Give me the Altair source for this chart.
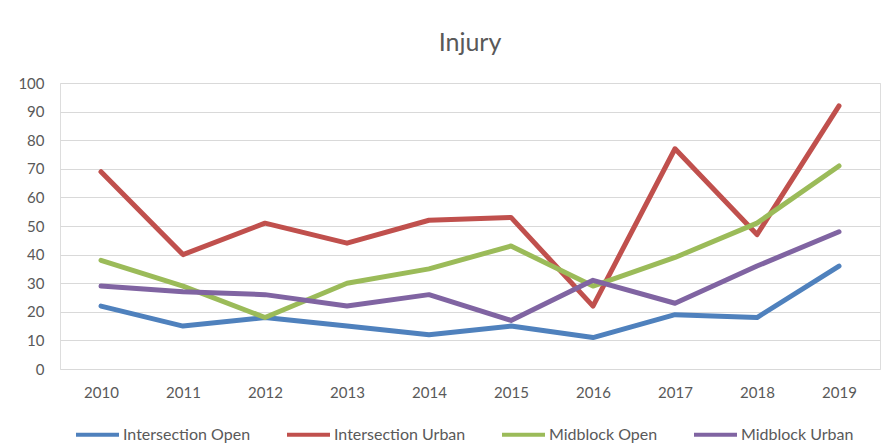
import altair as alt
import pandas as pd

years = ["2010", "2011", "2012", "2013", "2014", "2015", "2016", "2017", "2018", "2019"]
series_names = ["Intersection Open", "Intersection Urban", "Midblock Open", "Midblock Urban"]
intersection_open = [22, 15, 18, 15, 12, 15, 11, 19, 18, 36]
intersection_urban = [69, 40, 51, 44, 52, 53, 22, 77, 47, 92]
midblock_open = [38, 29, 18, 30, 35, 43, 29, 39, 51, 71]
midblock_urban = [29, 27, 26, 22, 26, 17, 31, 23, 36, 48]
colors = ["#4F81BD", "#C0504D", "#9BBB59", "#8064A2"]

rows = []
for name, vals in zip(series_names, [intersection_open, intersection_urban, midblock_open, midblock_urban]):
    for y, v in zip(years, vals):
        rows.append({"Year": y, "Value": v, "Series": name})
df = pd.DataFrame(rows)

FONT = "Lato"
TXT = "#595959"

chart = alt.Chart(df).mark_line(strokeWidth=5, strokeCap="round", strokeJoin="round").encode(
    x=alt.X("Year:O", sort=years, scale=alt.Scale(type="point", padding=0.5),
            axis=alt.Axis(title=None, labelAngle=0, ticks=False, grid=False, domain=False,
                          labelPadding=16, labelFontSize=15, labelColor=TXT, labelFont=FONT)),
    y=alt.Y("Value:Q", scale=alt.Scale(domain=[0, 100], nice=False),
            axis=alt.Axis(title=None, values=list(range(0, 101, 10)), ticks=False, domain=False,
                          labelPadding=16, labelFontSize=15, labelColor=TXT, labelFont=FONT,
                          gridColor="#d9d9d9", gridWidth=1)),
    color=alt.Color("Series:N", sort=series_names,
                    scale=alt.Scale(domain=series_names, range=colors),
                    legend=alt.Legend(title=None, orient="none", direction="horizontal",
                                      legendX=14, legendY=328,
                                      symbolType="stroke", symbolSize=1849, symbolStrokeWidth=4,
                                      labelFontSize=16, labelColor=TXT, labelFont=FONT,
                                      labelOffset=2, columnPadding=28)),
    detail="Series:N",
).properties(
    width=820, height=286,
    title=alt.TitleParams("Injury", fontSize=25, font=FONT, color=TXT, fontWeight="normal",
                          anchor="middle", offset=20),
    padding={"left": 52, "top": 75, "right": 8, "bottom": 76},
    autosize=alt.AutoSizeParams(type="none"),
).configure_view(stroke=None).configure(background="white")

chart.save("out.html", embed_options={"renderer": "svg", "actions": False})
